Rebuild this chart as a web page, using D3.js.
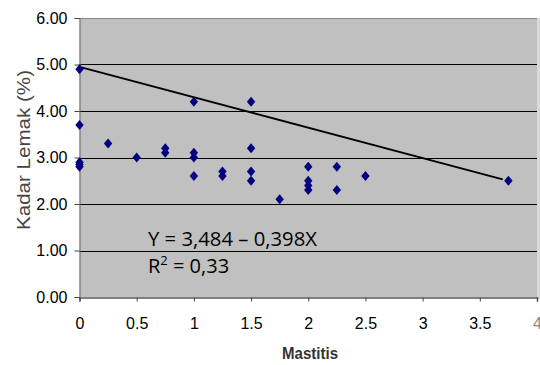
<!DOCTYPE html>
<html>
<head>
<meta charset="utf-8">
<script src="https://cdn.jsdelivr.net/npm/d3@7"></script>
<style>
  body { margin: 0; background: #fff; }
  svg text { font-family: Arial, "Liberation Sans", sans-serif; }
  svg text.eq { font-family: "Open Sans", "Noto Sans", sans-serif; }
</style>
</head>
<body>
<svg id="svg" width="540" height="365"></svg>
<script>
// data
var mastitis = [0, 0, 0, 0, 0, 0.25, 0.5, 0.75, 0.75, 1, 1, 1, 1, 1.25, 1.25, 1.5, 1.5, 1.5, 1.5, 1.75, 2, 2, 2, 2, 2.25, 2.25, 2.5, 3.75];
var lemak    = [4.9, 3.7, 2.9, 2.85, 2.8, 3.3, 3.0, 3.2, 3.1, 4.2, 3.1, 3.0, 2.6, 2.7, 2.6, 4.2, 3.2, 2.7, 2.5, 2.1, 2.8, 2.5, 2.4, 2.3, 2.8, 2.3, 2.6, 2.5];
var trendX = [0, 3.7];
var trendY = [4.95, 2.53];
var yTicks = [0, 1, 2, 3, 4, 5, 6];
var xTicks = [0, 0.5, 1, 1.5, 2, 2.5, 3, 3.5, 4];
var equationLines = ["Y = 3,484 \u2013 0,398X", "R", "2", " = 0,33"];

var svg = d3.select("#svg");
var pLeft = 79.5, pRight = 537, pTop = 18, pBottom = 297;

var x = d3.scaleLinear().domain([0, 4]).range([pLeft, pRight]);
var y = d3.scaleLinear().domain([0, 6]).range([pBottom, pTop]);

// plot background
svg.append("rect")
    .attr("x", pLeft).attr("y", pTop)
    .attr("width", pRight - pLeft).attr("height", pBottom - pTop)
    .attr("fill", "#c0c0c0");

// right-edge shadow
svg.append("rect")
    .attr("x", pRight).attr("y", pTop)
    .attr("width", 3).attr("height", pBottom - pTop + 2)
    .attr("fill", "#d8d8d8");

// gridlines
svg.append("g").selectAll("line").data(yTicks.filter(function(d){ return d > 0; }))
    .enter().append("line")
    .attr("x1", pLeft).attr("x2", pRight)
    .attr("y1", function(d){ return Math.round(y(d)) + 0.5; })
    .attr("y2", function(d){ return Math.round(y(d)) + 0.5; })
    .attr("stroke", function(d){ return d == 6 ? "#888" : "#000"; })
    .attr("stroke-width", 1);

// y axis
var yAxis = svg.append("g")
    .attr("transform", "translate(" + pLeft + ",0)")
    .call(d3.axisLeft(y).tickValues(yTicks).tickSize(5).tickPadding(7)
        .tickFormat(d3.format(".2f")));
yAxis.select(".domain").attr("stroke", "#666");
yAxis.selectAll(".tick line").attr("stroke", "#444");
yAxis.selectAll("text").attr("font-size", "16px").attr("fill", "#000");

// x axis
var xAxis = svg.append("g")
    .attr("transform", "translate(0," + (pBottom + 0.5) + ")")
    .call(d3.axisBottom(x).tickValues(xTicks).tickSize(4).tickPadding(16)
        .tickFormat(function(d){ return String(d); }));
xAxis.select(".domain").attr("stroke", "#555").attr("stroke-width", 1.5);
xAxis.selectAll(".tick line").attr("stroke", "#444");
xAxis.selectAll("text").attr("font-size", "16px").attr("fill", "#000");
xAxis.selectAll(".tick").filter(function(d){ return d == 4; }).select("text").attr("fill", "#888");

// trend line
svg.append("line")
    .attr("x1", x(trendX[0])).attr("y1", y(trendY[0]))
    .attr("x2", x(trendX[1])).attr("y2", y(trendY[1]))
    .attr("stroke", "#000").attr("stroke-width", 1.8);

// markers
var diamond = "M0,-5L4.2,0L0,5L-4.2,0Z";
svg.append("g").selectAll("path").data(mastitis)
    .enter().append("path")
    .attr("d", diamond)
    .attr("transform", function(d, i){ return "translate(" + x(d) + "," + y(lemak[i]) + ")"; })
    .attr("fill", "#000080");

// equation
svg.append("text").attr("class", "eq")
    .attr("x", 148).attr("y", 246)
    .attr("font-size", "20px").attr("fill", "#000")
    .attr("textLength", 169).attr("lengthAdjust", "spacingAndGlyphs")
    .text(equationLines[0]);
var r2 = svg.append("text").attr("class", "eq")
    .attr("x", 148).attr("y", 273)
    .attr("font-size", "20px").attr("fill", "#000");
r2.append("tspan").text(equationLines[1]);
r2.append("tspan").attr("dy", -8).attr("font-size", "13px").text(equationLines[2]);
r2.append("tspan").attr("dy", 8).text(equationLines[3]);

// axis titles
svg.append("text")
    .attr("transform", "translate(30,150) rotate(-90)")
    .attr("text-anchor", "middle")
    .attr("font-size", "17.5px").attr("fill", "#444")
    .attr("textLength", 160).attr("lengthAdjust", "spacingAndGlyphs")
    .text("Kadar Lemak (%)");

svg.append("text")
    .attr("x", 310).attr("y", 359)
    .attr("text-anchor", "middle")
    .attr("font-size", "16.5px").attr("font-weight", "bold").attr("fill", "#333")
    .attr("textLength", 56).attr("lengthAdjust", "spacingAndGlyphs")
    .text("Mastitis");
</script>
</body>
</html>
